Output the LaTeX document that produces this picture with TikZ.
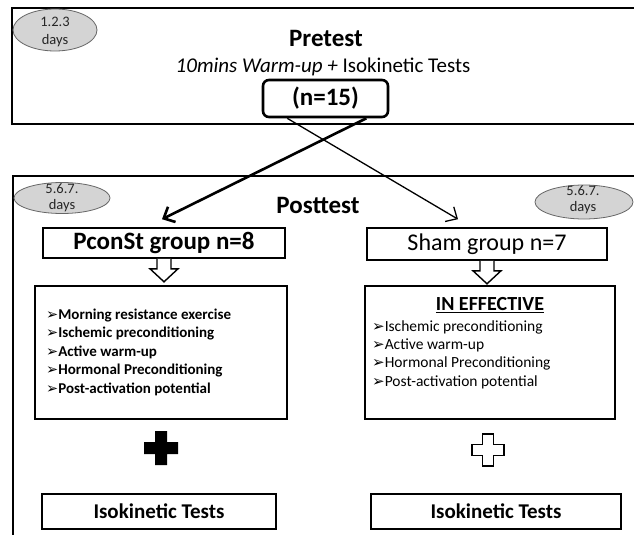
\documentclass[tikz,border=0pt]{standalone}
\usepackage{fontspec}
\setmainfont{Carlito}
\newfontfamily\dv{DejaVu Sans}
\usetikzlibrary{arrows.meta,calc,shapes.geometric}
\tikzset{
  frame/.style={line width=1.6pt},
  dayshape/.style={ellipse, draw=black!60, fill=black!17, line width=0.8pt, inner sep=0pt},
  daytext/.style={align=center, inner sep=0pt, font=\fontsize{14.5}{16.5}\selectfont, text=black!85},
  grpbox/.style={draw, line width=1.6pt, inner sep=0pt},
  listbox/.style={draw, line width=1.6pt, inner sep=0pt},
  testbox/.style={draw, line width=1.5pt, inner sep=0pt, font=\bfseries\fontsize{21}{24}\selectfont},
  hollowarrow/.style={draw, fill=white, line width=1.4pt, line join=miter},
  flowline/.style={-{Straight Barb[length=9pt,width=17pt]}},
}
\newcommand{\bulB}{{\dv\bfseries\fontsize{14.5}{14}\selectfont ➢}}
\newcommand{\bulR}{{\dv\fontsize{15}{14}\selectfont ➢}}
\begin{document}
\begin{tikzpicture}[x=1pt,y=-1pt]
\useasboundingbox (0,0) rectangle (634,535);
\fill[white] (0,0) rectangle (634,535);
% Pretest frame
\draw[frame] (634,8) -- (12,8) -- (12,124) -- (634,124);
\node[dayshape, minimum width=84pt, minimum height=42pt] (e1) at (55,30) {};
\node[daytext, font=\fontsize{14.5}{18.5}\selectfont] (t1) at (55,32) {1.2.3\\days};
\node[font=\bfseries\fontsize{25}{28}\selectfont] (pre) at (326,38) {Pretest};
\node[font=\fontsize{21}{24}\selectfont] (sub) at (323,67) {\textit{10mins Warm-up +} Isokinetic Tests};
\node[draw, line width=2.6pt, rounded corners=6pt, minimum width=125pt, minimum height=37pt, inner sep=0pt,
      font=\bfseries\fontsize{25}{28}\selectfont] (n15) at (325.5,98.5) {(n=15)};
% Posttest frame
\draw[frame] (634,176) -- (13,176) -- (13,540);
\node[dayshape, minimum width=96pt, minimum height=31pt] (e2) at (62,198) {};
\node[daytext] (t2) at (e2) {5.6.7.\\days};
\node[dayshape, minimum width=98pt, minimum height=34pt] (e3) at (584,202) {};
\node[daytext] (t3) at (583,200) {5.6.7.\\days};
\node[font=\bfseries\fontsize{25}{28}\selectfont] (post) at (318,205) {Posttest};
% group boxes
\node[grpbox, minimum width=242pt, minimum height=30pt, font=\bfseries\fontsize{25}{28}\selectfont] (pc) at (164,243) {PconSt group n=8};
\node[grpbox, minimum width=240pt, minimum height=32pt, font=\fontsize{24}{28}\selectfont] (sh) at (487,244) {Sham group n=7};
% crossing arrows
\coordinate (s1) at ($(n15.south west)!0.2!(n15.south east)$);
\coordinate (s2) at ($(n15.south west)!0.82!(n15.south east)$);
\coordinate (tipP) at ($(pc.north)+(-2,-8)$);
\coordinate (tipS) at ($(sh.north)+(-29,-8)$);
\draw[flowline, line width=2.6pt] (s2) -- (tipP);
\draw[flowline, line width=1.3pt] (s1) -- (tipS);
% hollow block arrows
\draw[hollowarrow, shift={(pc.south)}] (-7,0) -- (-7,10) -- (-14,10) -- (0,23) -- (14,10) -- (7,10) -- (7,0);
\draw[hollowarrow, shift={(sh.south)}] (-7,0) -- (-7,10) -- (-14,10) -- (0,23) -- (14,10) -- (7,10) -- (7,0);
% list boxes
\node[listbox, minimum width=252pt, minimum height=133pt] (lb) at (161,352.5) {};
\node[listbox, minimum width=250pt, minimum height=133pt] (rb) at (490,352.5) {};
\node[anchor=west, align=left, inner sep=0pt, font=\bfseries\fontsize{15}{18.5}\selectfont] (ll) at (46,352)
 {\bulB Morning resistance exercise\\\bulB Ischemic preconditioning\\\bulB Active warm-up\\\bulB Hormonal Preconditioning\\\bulB Post-activation potential};
\node[font=\bfseries\fontsize{20}{24}\selectfont, inner sep=0pt] (ie) at (490,305) {\underline{IN EFFECTIVE}};
\node[anchor=west, align=left, inner sep=0pt, font=\fontsize{15.5}{18.3}\selectfont] (rl) at (372,354.5)
 {\bulR Ischemic preconditioning\\\bulR Active warm-up\\\bulR Hormonal Preconditioning\\\bulR Post-activation potential};
% crosses
\fill[shift={(161,448)}] (-6,-17) -- (6,-17) -- (6,-6) -- (17,-6) -- (17,6) -- (6,6) -- (6,17) -- (-6,17) -- (-6,6) -- (-17,6) -- (-17,-6) -- (-6,-6) -- cycle;
\draw[line width=1.5pt, line join=miter, shift={(488,450)}] (-5.5,-16) -- (5.5,-16) -- (5.5,-5.5) -- (16,-5.5) -- (16,5.5) -- (5.5,5.5) -- (5.5,16) -- (-5.5,16) -- (-5.5,5.5) -- (-16,5.5) -- (-16,-5.5) -- (-5.5,-5.5) -- cycle;
% test boxes
\node[testbox, minimum width=234pt, minimum height=35pt] (it1) at (159,511.5) {Isokinetic Tests};
\node[testbox, minimum width=250pt, minimum height=35pt] (it2) at (496,511.5) {Isokinetic Tests};
\end{tikzpicture}
\end{document}
